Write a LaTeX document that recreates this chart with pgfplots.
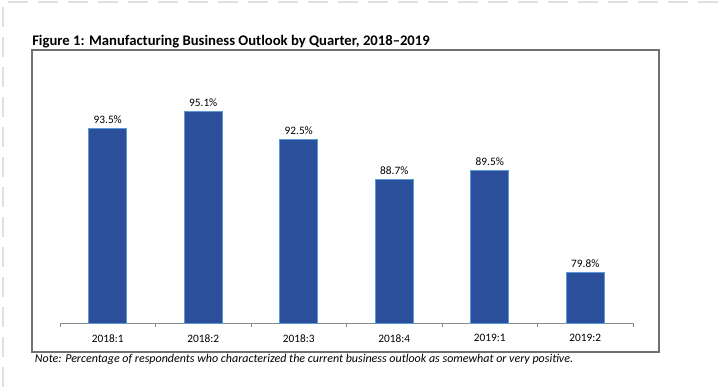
\documentclass[border=0pt]{standalone}
\usepackage{pgfplots}
\pgfplotsset{compat=1.18}
\usepackage{fontspec}
\setmainfont{Carlito}
\definecolor{barfill}{HTML}{2C4F9B}
\definecolor{baredge}{HTML}{5B9BD5}
\definecolor{framegray}{HTML}{707070}
\definecolor{axisgray}{HTML}{8C8C8C}
\definecolor{dashgray}{HTML}{E0E0E0}
\begin{document}
\begin{tikzpicture}
\path[use as bounding box] (0,0) rectangle (546pt,290.25pt);
% decorative dashed page border
\draw[dashgray, line width=1.5pt, dash pattern=on 15pt off 7.5pt] (2pt,0) -- (2pt,288.75pt) -- (546pt,288.75pt);
% chart frame
\draw[framegray, line width=1.1pt] (24pt,26.25pt) rectangle (494.25pt,252.75pt);
% title
\node[anchor=base west, inner sep=0pt, font=\bfseries\fontsize{11pt}{13pt}\selectfont] at (24pt,256.5pt) {Figure 1: Manufacturing Business Outlook by Quarter, 2018–2019};
% note
\node[anchor=base west, inner sep=0pt, font=\itshape\fontsize{9pt}{11pt}\selectfont] at (26pt,18.75pt) {Note: Percentage of respondents who characterized the current business outlook as somewhat or very positive.};
\begin{axis}[
  at={(45pt,48pt)}, anchor=south west,
  width=429.75pt, height=196.875pt, scale only axis,
  xmin=-0.5, xmax=5.5, ymin=75, ymax=100,
  axis x line*=bottom, axis y line=none,
  axis line style={axisgray, line width=0.6pt},
  xtick={0,1,2,3,4,5},
  xticklabels={2018:1,2018:2,2018:3,2018:4,2019:1,2019:2},
  major tick length=0pt,
  minor xtick={-0.5,0.5,1.5,2.5,3.5,4.5,5.5},
  minor tick length=3pt,
  tick align=outside,
  minor tick style={axisgray, line width=0.6pt},
  xticklabel style={font=\fontsize{8.5pt}{10pt}\selectfont, yshift=-5pt},
  ybar, bar width=28.5pt,
  clip=false,
  /pgf/number format/assume math mode=true,
  nodes near coords={\pgfmathprintnumber[fixed,fixed zerofill,precision=1]{\pgfplotspointmeta}\%},
  every node near coord/.append style={font=\fontsize{8.5pt}{10pt}\selectfont, black},
]
\addplot[fill=barfill, draw=baredge, line width=0.75pt] coordinates {
  (0,93.5) (1,95.1) (2,92.5) (3,88.7) (4,89.5) (5,79.8)
};
\end{axis}
\end{tikzpicture}
\end{document}
